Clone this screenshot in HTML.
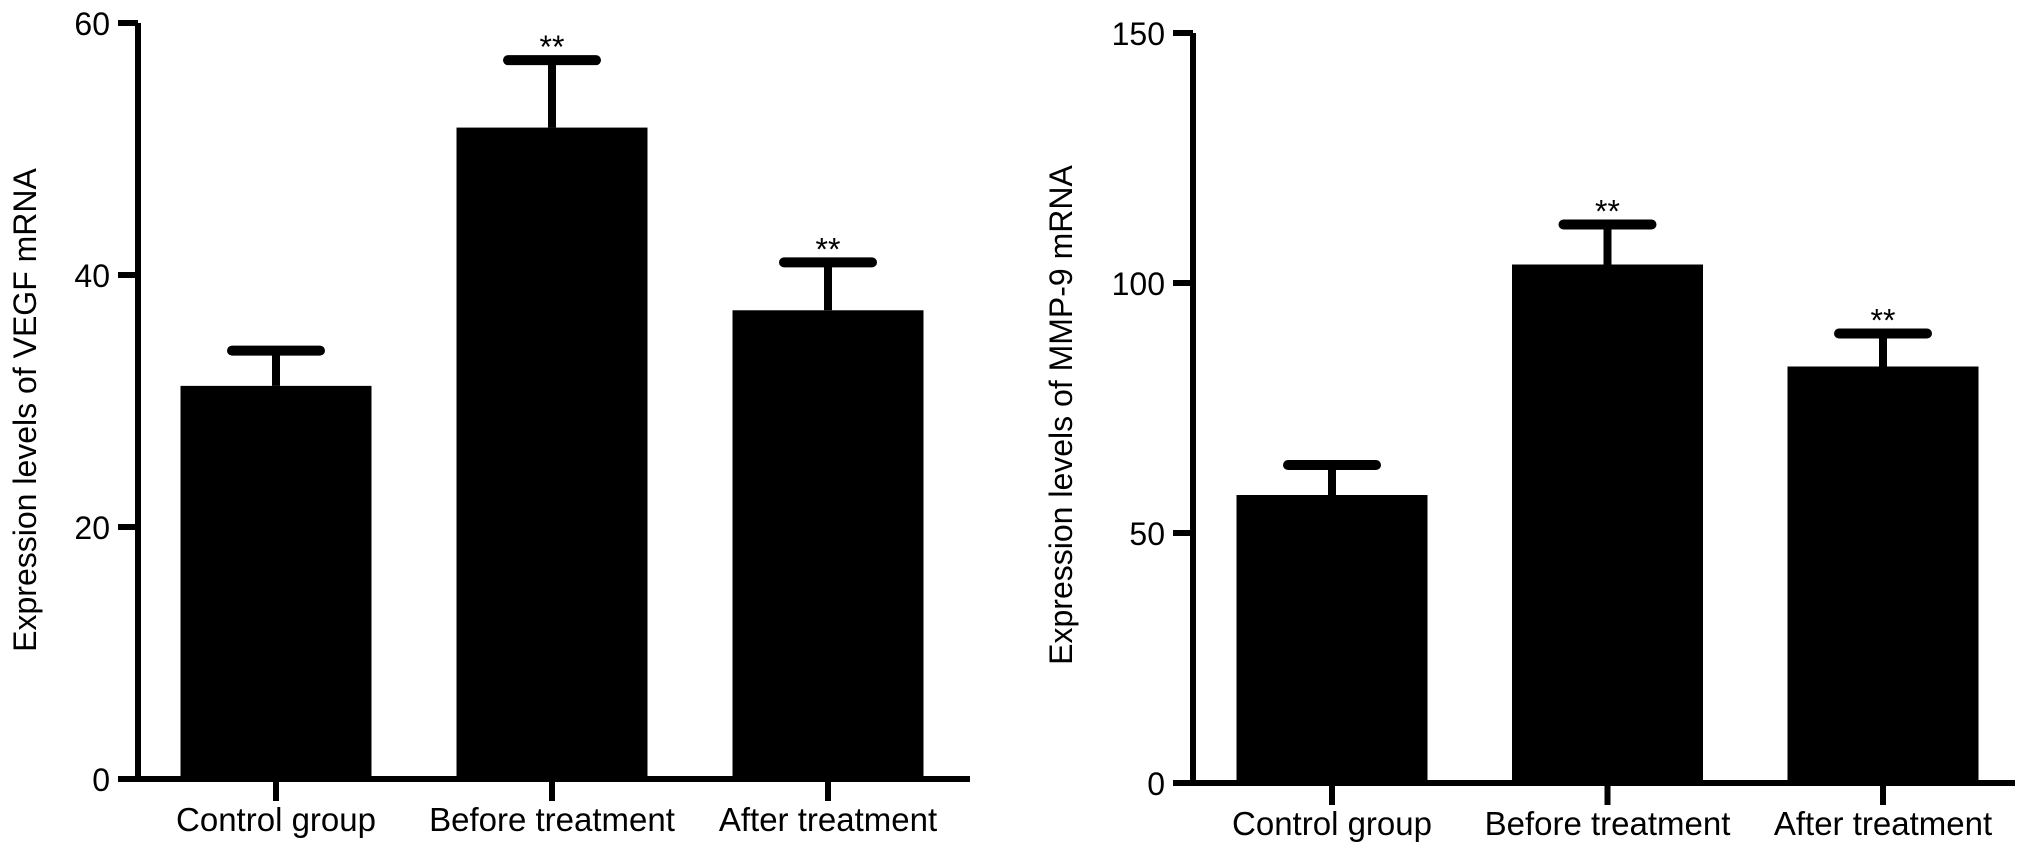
<!DOCTYPE html>
<html><head><meta charset="utf-8"><style>
html,body{margin:0;padding:0;background:#fff;}
svg{display:block;font-family:"Liberation Sans",Arial,sans-serif;}
</style></head><body>
<svg id="chart" width="2032" height="851" viewBox="0 0 2032 851"></svg>
<script>
const categories = ["Control group","Before treatment","After treatment"];
const vegfMeans = [31.2, 51.7, 37.2];
const vegfErr = [34.0, 57.05, 41.0];
const vegfSig = ["", "**", "**"];
const vegfTicks = [0, 20, 40, 60];
const mmpMeans = [57.6, 103.7, 83.3];
const mmpErr = [63.6, 111.7, 89.9];
const mmpSig = ["", "**", "**"];
const mmpTicks = [0, 50, 100, 150];

const NS = "http://www.w3.org/2000/svg";
const svg = document.getElementById("chart");
function mk(tag, attrs, parent){
  const e = document.createElementNS(NS, tag);
  for (const k in attrs) e.setAttribute(k, attrs[k]);
  (parent||svg).appendChild(e);
  return e;
}
function panel(cfg){
  const g = mk("g", {});
  
  
  const y = v => cfg.y0 - (v - 0) / cfg.max * (cfg.y0 - cfg.yTop);
  const barW = cfg.barW, step = cfg.step;
  const xc = i => cfg.firstCenter + i * step;
  cfg.means.forEach((m, i) => {
    const r = mk("rect", {x: xc(i) - barW/2, y: y(m), width: barW, height: cfg.y0 - y(m), fill: "#000"}, g);
    
    
    const s = mk("line", {x1: xc(i), x2: xc(i), y1: y(m), y2: y(cfg.err[i]), stroke: "#000", "stroke-width": 8}, g);
    
    
    const c = mk("line", {x1: xc(i) - 44, x2: xc(i) + 44, y1: y(cfg.err[i]), y2: y(cfg.err[i]), stroke: "#000", "stroke-width": 10, "stroke-linecap": "round"}, g);
    
    
    if (cfg.sig[i]) {
      const t = mk("text", {x: xc(i), y: y(cfg.err[i]) - 2, "text-anchor": "middle", "font-size": 32, fill: "#000"}, g);
      t.textContent = cfg.sig[i];
      
      
    }
    const tk = mk("line", {x1: xc(i), x2: xc(i), y1: cfg.y0, y2: cfg.y0 + 22, stroke: "#000", "stroke-width": 6}, g);
    
    
    const lb = mk("text", {x: xc(i), y: cfg.y0 + 52, "text-anchor": "middle", "font-size": 33, fill: "#000"}, g);
    lb.textContent = categories[i];
    
    
  });
  const ya = mk("line", {x1: cfg.ax, x2: cfg.ax, y1: cfg.yTop, y2: cfg.y0 + 3, stroke: "#000", "stroke-width": 6}, g);
  
  
  const xa = mk("line", {x1: cfg.ax - 20, x2: cfg.xEnd, y1: cfg.y0, y2: cfg.y0, stroke: "#000", "stroke-width": 6}, g);
  
  
  cfg.ticks.forEach(t => {
    const l = mk("line", {x1: cfg.ax - 20, x2: cfg.ax, y1: y(t), y2: y(t), stroke: "#000", "stroke-width": 6}, g);
    
    
    const tx = mk("text", {x: cfg.ax - 28, y: y(t) + 12, "text-anchor": "end", "font-size": 32, fill: "#000"}, g);
    tx.textContent = t;
    
    
  });
  const ti = mk("text", {x: 0, y: 0, transform: `translate(${cfg.titleX},${cfg.titleY}) rotate(-90)`, "text-anchor": "middle", "font-size": 32, fill: "#000"}, g);
  ti.textContent = cfg.title;
  
  
}
panel({name: "vegf-chart", means: vegfMeans, err: vegfErr, sig: vegfSig, ticks: vegfTicks, max: 60,
  ax: 138, y0: 779, yTop: 23, xEnd: 970, firstCenter: 276, step: 276, barW: 191,
  title: "Expression levels of VEGF mRNA", titleX: 36, titleY: 410});
panel({name: "mmp9-chart", means: mmpMeans, err: mmpErr, sig: mmpSig, ticks: mmpTicks, max: 150,
  ax: 1193, y0: 783, yTop: 33, xEnd: 2015, firstCenter: 1332, step: 275.5, barW: 191,
  title: "Expression levels of MMP-9 mRNA", titleX: 1072, titleY: 415});
</script>
</body></html>
